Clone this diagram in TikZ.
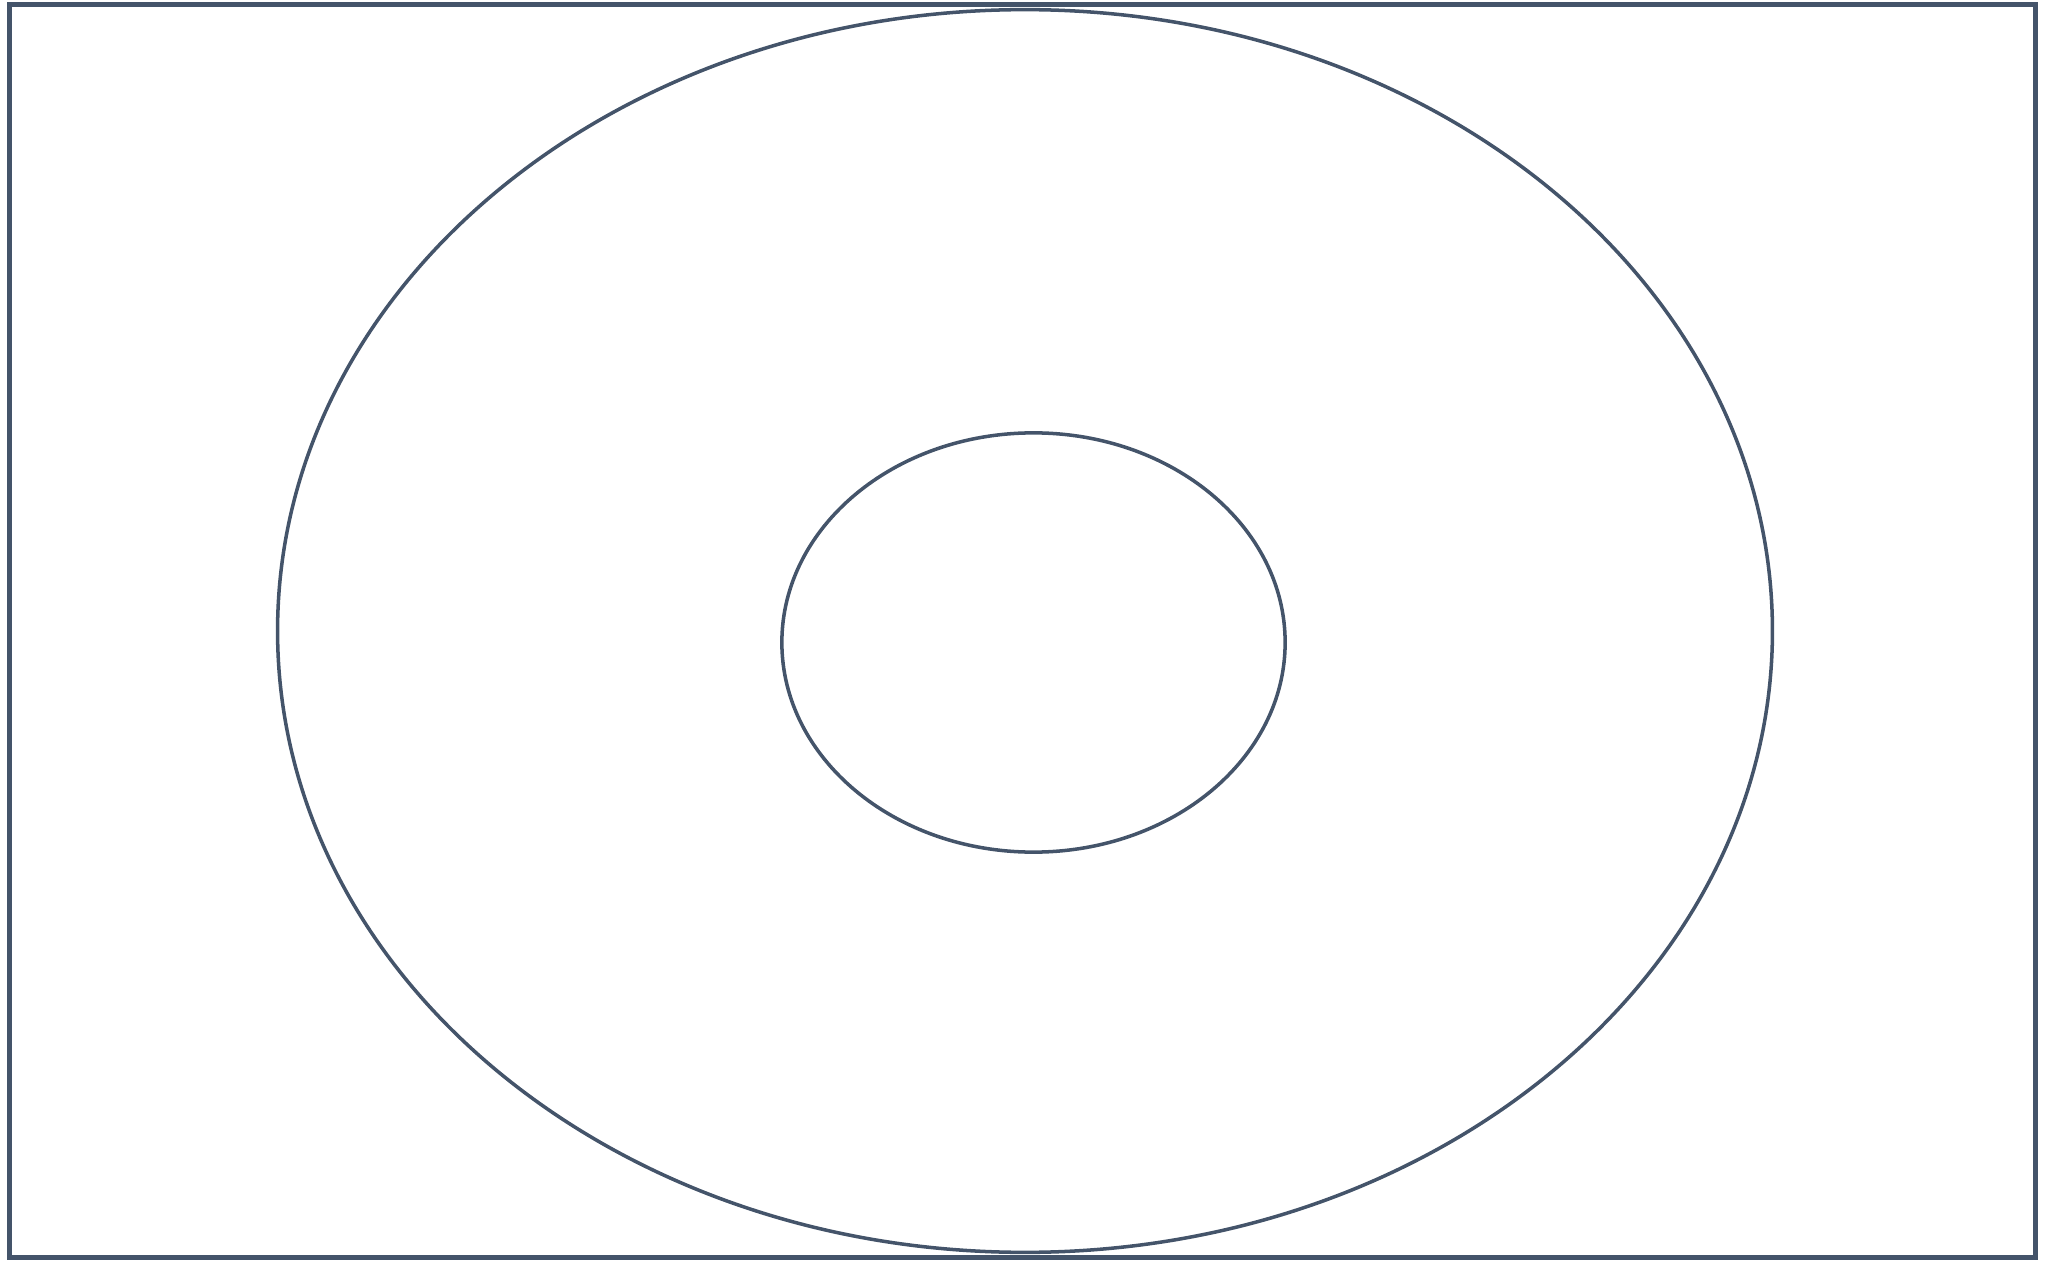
\documentclass[tikz,border=0pt]{standalone}
\usetikzlibrary{shapes.geometric, positioning}

\definecolor{slateline}{HTML}{44546A}

\begin{document}
\begin{tikzpicture}[
    x=0.01cm, y=-0.01cm,
    frame/.style={rectangle, draw=slateline, line width=1.3pt, inner sep=0pt, minimum width=20.25cm, minimum height=12.52cm},
    ring/.style={ellipse, draw=slateline, line width=1pt, inner sep=0pt}
]
\useasboundingbox (0,0) rectangle (2051,1261);

\node[frame] (box)   at (1022.5, 631) {};
\node[ring, minimum width=14.94cm, minimum height=12.42cm] (outer) at (1025, 631) {};
\node[ring, minimum width=5.03cm, minimum height=4.19cm]  (inner) at (1033.5, 642.5) {};

\end{tikzpicture}
\end{document}
